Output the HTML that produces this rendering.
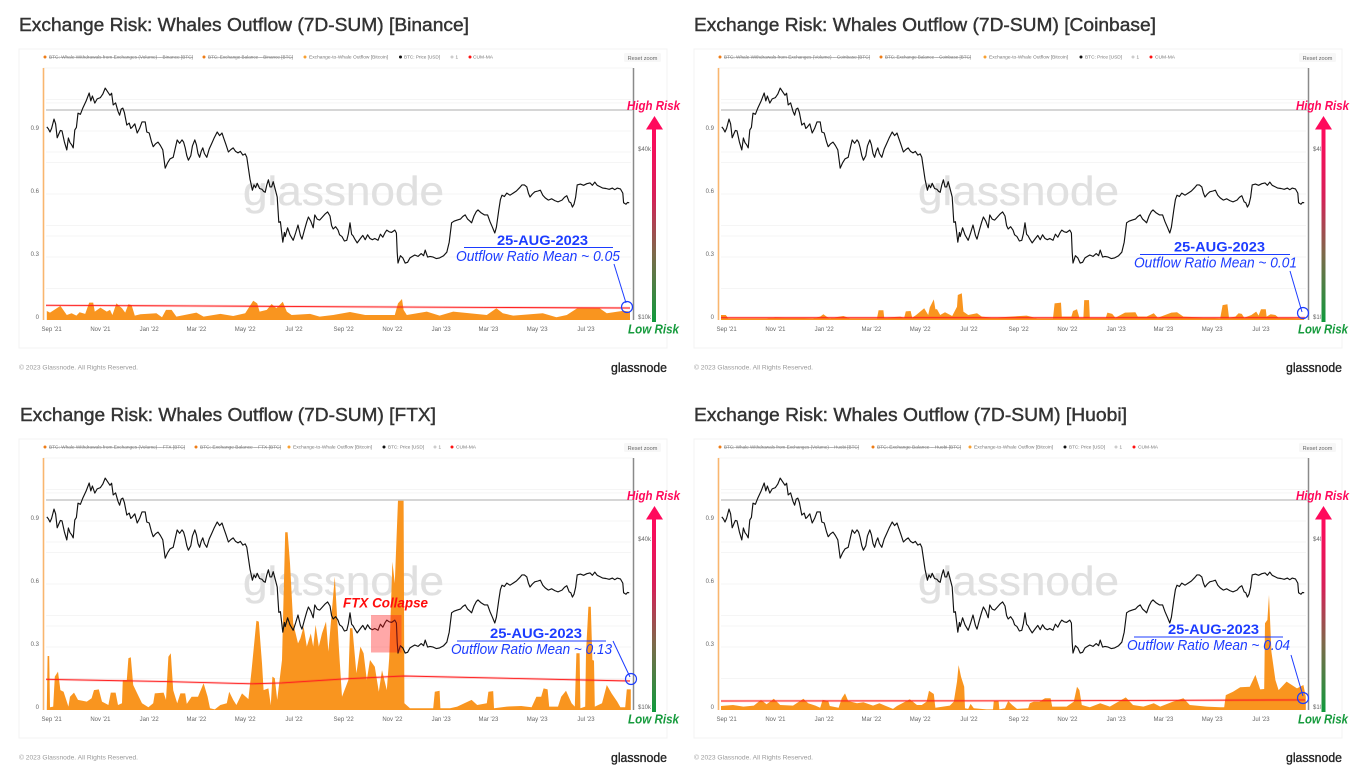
<!DOCTYPE html>
<html lang="en">
<head>
<meta charset="utf-8">
<title>Exchange Risk: Whales Outflow</title>
<style>
html,body{margin:0;padding:0;background:#fff;width:1369px;height:775px;overflow:hidden}
svg{display:block;font-family:"Liberation Sans",sans-serif}
.title{font-size:18px;fill:#333;stroke:#333;stroke-width:.4}
.lg{font-size:4.6px;fill:#777}
.lgs{font-size:4.6px;fill:#777;text-decoration:line-through}
.rz{font-size:5.6px;fill:#666;text-anchor:middle}
.copy{font-size:6.5px;fill:#999}
.logo{font-size:13px;fill:#222;stroke:#222;stroke-width:.35}
.wm{font-size:41px;fill:#e0e0e0;stroke:#e0e0e0;stroke-width:.3}
.date{font-size:13.5px;font-weight:bold;fill:#1c3cff}
.ratio{font-size:14.5px;font-style:italic;fill:#1c3cff}
.hi{font-size:12.5px;font-weight:bold;font-style:italic;fill:#ff0a5c}
.lo{font-size:12.5px;font-weight:bold;font-style:italic;fill:#159a3c}
.ftx{font-size:13.5px;font-weight:bold;font-style:italic;fill:#ff0d0d}
.tick{font-size:6px;fill:#666}
</style>
</head>
<body>
<svg id="chart-root" width="1369" height="775" viewBox="0 0 1369 775" xmlns="http://www.w3.org/2000/svg">
<defs>
<linearGradient id="riskGrad" x1="0" y1="0" x2="0" y2="1"><stop offset="0" stop-color="#ff0a5c"/><stop offset=".35" stop-color="#d81f58"/><stop offset=".65" stop-color="#7d6a4a"/><stop offset="1" stop-color="#0f9a3c"/></linearGradient>
</defs>
<rect width="1369" height="775" fill="#fff"/>

<!-- PANEL 1 -->
<g>
<text class="title" x="19" y="31" textLength="450" lengthAdjust="spacingAndGlyphs">Exchange Risk: Whales Outflow (7D-SUM) [Binance]</text>
<rect x="19" y="49" width="648" height="299" fill="#fff" stroke="#f3f3f3"/>
<g>
<circle cx="45" cy="57" r="1.5" fill="#ef7d16"/><text class="lgs" x="49" y="58.7" textLength="144" lengthAdjust="spacingAndGlyphs">BTC: Whale Withdrawals from Exchanges (Volume) – Binance [BTC]</text>
<circle cx="204" cy="57" r="1.5" fill="#ef7d16"/><text class="lgs" x="208" y="58.7" textLength="85" lengthAdjust="spacingAndGlyphs">BTC: Exchange Balance – Binance [BTC]</text>
<circle cx="305" cy="57" r="1.5" fill="#f9a030"/><text class="lg" x="309" y="58.7" textLength="79" lengthAdjust="spacingAndGlyphs">Exchange-to-Whale Outflow [Bitcoin]</text>
<circle cx="400.500" cy="57" r="1.5" fill="#111"/><text class="lg" x="404" y="58.7" textLength="36" lengthAdjust="spacingAndGlyphs">BTC: Price [USD]</text>
<circle cx="452" cy="57" r="1.5" fill="#ccc"/><text class="lg" x="455.500" y="58.7">1</text>
<circle cx="470" cy="57" r="1.5" fill="#f11"/><text class="lg" x="473" y="58.7" textLength="20" lengthAdjust="spacingAndGlyphs">CUM-MA</text>
</g>
<rect x="624" y="53" width="37" height="9" rx="1.5" fill="#f7f7f7"/><text class="rz" x="642.500" y="59.800">Reset zoom</text>
<g id="marks-binance"></g>
<text class="copy" x="19" y="369.500" textLength="119" lengthAdjust="spacingAndGlyphs">© 2023 Glassnode. All Rights Reserved.</text>
<text class="logo" x="611" y="372" textLength="56" lengthAdjust="spacingAndGlyphs">glassnode</text>
<text class="hi" x="627" y="110" textLength="53" lengthAdjust="spacingAndGlyphs">High Risk</text>
<rect x="652" y="128" width="4" height="194" fill="url(#riskGrad)"/>
<polygon points="654.500,116 646,129.500 663,129.500" fill="#ff0a5c"/>
<text class="lo" x="628" y="333.500" textLength="51" lengthAdjust="spacingAndGlyphs">Low Risk</text>
<text class="date" x="497" y="245" textLength="91" lengthAdjust="spacingAndGlyphs">25-AUG-2023</text>
<line x1="464" y1="247.500" x2="613" y2="247.500" stroke="#1c3cff"/>
<text class="ratio" x="456" y="261" textLength="164" lengthAdjust="spacingAndGlyphs">Outflow Ratio Mean ~ 0.05</text>
<line x1="614" y1="264" x2="626" y2="303" stroke="#1c3cff"/>
<circle cx="627" cy="307" r="5.500" fill="none" stroke="#1c3cff" stroke-width="1.200"/>
</g>

<!-- PANEL 2 -->
<g>
<text class="title" x="694" y="31" textLength="462" lengthAdjust="spacingAndGlyphs">Exchange Risk: Whales Outflow (7D-SUM) [Coinbase]</text>
<rect x="694" y="49" width="648" height="299" fill="#fff" stroke="#f3f3f3"/>
<g>
<circle cx="720" cy="57" r="1.5" fill="#ef7d16"/><text class="lgs" x="724" y="58.7" textLength="146" lengthAdjust="spacingAndGlyphs">BTC: Whale Withdrawals from Exchanges (Volume) – Coinbase [BTC]</text>
<circle cx="881" cy="57" r="1.5" fill="#ef7d16"/><text class="lgs" x="885" y="58.7" textLength="86" lengthAdjust="spacingAndGlyphs">BTC: Exchange Balance – Coinbase [BTC]</text>
<circle cx="985" cy="57" r="1.5" fill="#f9a030"/><text class="lg" x="989" y="58.7" textLength="79" lengthAdjust="spacingAndGlyphs">Exchange-to-Whale Outflow [Bitcoin]</text>
<circle cx="1081" cy="57" r="1.5" fill="#111"/><text class="lg" x="1085" y="58.7" textLength="37" lengthAdjust="spacingAndGlyphs">BTC: Price [USD]</text>
<circle cx="1133" cy="57" r="1.5" fill="#ccc"/><text class="lg" x="1136.500" y="58.7">1</text>
<circle cx="1151" cy="57" r="1.5" fill="#f11"/><text class="lg" x="1155" y="58.7" textLength="20" lengthAdjust="spacingAndGlyphs">CUM-MA</text>
</g>
<rect x="1299" y="53" width="37" height="9" rx="1.5" fill="#f7f7f7"/><text class="rz" x="1317.500" y="59.800">Reset zoom</text>
<g id="marks-coinbase"></g>
<rect x="1321" y="68" width="19" height="256" fill="#fff"/>
<text class="copy" x="694" y="369.500" textLength="119" lengthAdjust="spacingAndGlyphs">© 2023 Glassnode. All Rights Reserved.</text>
<text class="logo" x="1286" y="372" textLength="56" lengthAdjust="spacingAndGlyphs">glassnode</text>
<text class="hi" x="1296" y="110" textLength="53" lengthAdjust="spacingAndGlyphs">High Risk</text>
<rect x="1321.500" y="128" width="4" height="194" fill="url(#riskGrad)"/>
<polygon points="1323.500,116 1315,129.500 1332,129.500" fill="#ff0a5c"/>
<text class="lo" x="1298" y="333.500" textLength="50" lengthAdjust="spacingAndGlyphs">Low Risk</text>
<text class="date" x="1174" y="251.500" textLength="91" lengthAdjust="spacingAndGlyphs">25-AUG-2023</text>
<line x1="1140" y1="254.500" x2="1290" y2="254.500" stroke="#1c3cff"/>
<text class="ratio" x="1134" y="267.500" textLength="163" lengthAdjust="spacingAndGlyphs">Outflow Ratio Mean ~ 0.01</text>
<line x1="1290" y1="271" x2="1302" y2="312" stroke="#1c3cff"/>
<circle cx="1303" cy="313" r="5.500" fill="none" stroke="#1c3cff" stroke-width="1.200"/>
</g>

<!-- PANEL 3 -->
<g>
<text class="title" x="20" y="421" textLength="416" lengthAdjust="spacingAndGlyphs">Exchange Risk: Whales Outflow (7D-SUM) [FTX]</text>
<rect x="19" y="439" width="648" height="299" fill="#fff" stroke="#f3f3f3"/>
<g>
<circle cx="45" cy="447" r="1.5" fill="#ef7d16"/><text class="lgs" x="49" y="448.700" textLength="136" lengthAdjust="spacingAndGlyphs">BTC: Whale Withdrawals from Exchanges (Volume) – FTX [BTC]</text>
<circle cx="196" cy="447" r="1.5" fill="#ef7d16"/><text class="lgs" x="200" y="448.700" textLength="81" lengthAdjust="spacingAndGlyphs">BTC: Exchange Balance – FTX [BTC]</text>
<circle cx="289" cy="447" r="1.5" fill="#f9a030"/><text class="lg" x="293" y="448.700" textLength="79" lengthAdjust="spacingAndGlyphs">Exchange-to-Whale Outflow [Bitcoin]</text>
<circle cx="384" cy="447" r="1.5" fill="#111"/><text class="lg" x="388" y="448.700" textLength="36" lengthAdjust="spacingAndGlyphs">BTC: Price [USD]</text>
<circle cx="435" cy="447" r="1.5" fill="#ccc"/><text class="lg" x="438.500" y="448.700">1</text>
<circle cx="452" cy="447" r="1.5" fill="#f11"/><text class="lg" x="456" y="448.700" textLength="20" lengthAdjust="spacingAndGlyphs">CUM-MA</text>
</g>
<rect x="624" y="443" width="37" height="9" rx="1.5" fill="#f7f7f7"/><text class="rz" x="642.500" y="449.800">Reset zoom</text>
<g id="marks-ftx"></g>
<rect x="371" y="615" width="30.500" height="37.500" fill="#ff1a1a" fill-opacity=".38"/>
<text class="ftx" x="343" y="607.500" textLength="85" lengthAdjust="spacingAndGlyphs">FTX Collapse</text>
<text class="copy" x="19" y="759.500" textLength="119" lengthAdjust="spacingAndGlyphs">© 2023 Glassnode. All Rights Reserved.</text>
<text class="logo" x="611" y="762" textLength="56" lengthAdjust="spacingAndGlyphs">glassnode</text>
<text class="hi" x="627" y="500" textLength="53" lengthAdjust="spacingAndGlyphs">High Risk</text>
<rect x="652" y="518" width="4" height="194" fill="url(#riskGrad)"/>
<polygon points="654.500,506 646,519.500 663,519.500" fill="#ff0a5c"/>
<text class="lo" x="628" y="723.500" textLength="51" lengthAdjust="spacingAndGlyphs">Low Risk</text>
<text class="date" x="490" y="638" textLength="92" lengthAdjust="spacingAndGlyphs">25-AUG-2023</text>
<line x1="457" y1="641" x2="606" y2="641" stroke="#1c3cff"/>
<text class="ratio" x="451" y="654" textLength="161" lengthAdjust="spacingAndGlyphs">Outflow Ratio Mean ~ 0.13</text>
<line x1="613" y1="641" x2="630" y2="677" stroke="#1c3cff"/>
<circle cx="631" cy="679" r="5.500" fill="none" stroke="#1c3cff" stroke-width="1.200"/>
</g>

<!-- PANEL 4 -->
<g>
<text class="title" x="694" y="421" textLength="433" lengthAdjust="spacingAndGlyphs">Exchange Risk: Whales Outflow (7D-SUM) [Huobi]</text>
<rect x="694" y="439" width="648" height="299" fill="#fff" stroke="#f3f3f3"/>
<g>
<circle cx="720" cy="447" r="1.5" fill="#ef7d16"/><text class="lgs" x="724" y="448.700" textLength="135" lengthAdjust="spacingAndGlyphs">BTC: Whale Withdrawals from Exchanges (Volume) – Huobi [BTC]</text>
<circle cx="873" cy="447" r="1.5" fill="#ef7d16"/><text class="lgs" x="877" y="448.700" textLength="84" lengthAdjust="spacingAndGlyphs">BTC: Exchange Balance – Huobi [BTC]</text>
<circle cx="970" cy="447" r="1.5" fill="#f9a030"/><text class="lg" x="974" y="448.700" textLength="79" lengthAdjust="spacingAndGlyphs">Exchange-to-Whale Outflow [Bitcoin]</text>
<circle cx="1065" cy="447" r="1.5" fill="#111"/><text class="lg" x="1069" y="448.700" textLength="36" lengthAdjust="spacingAndGlyphs">BTC: Price [USD]</text>
<circle cx="1116" cy="447" r="1.5" fill="#ccc"/><text class="lg" x="1119.500" y="448.700">1</text>
<circle cx="1134" cy="447" r="1.5" fill="#f11"/><text class="lg" x="1138" y="448.700" textLength="20" lengthAdjust="spacingAndGlyphs">CUM-MA</text>
</g>
<rect x="1299" y="443" width="37" height="9" rx="1.5" fill="#f7f7f7"/><text class="rz" x="1317.500" y="449.800">Reset zoom</text>
<g id="marks-huobi"></g>
<rect x="1321" y="458" width="19" height="256" fill="#fff"/>
<text class="copy" x="694" y="759.500" textLength="119" lengthAdjust="spacingAndGlyphs">© 2023 Glassnode. All Rights Reserved.</text>
<text class="logo" x="1286" y="762" textLength="56" lengthAdjust="spacingAndGlyphs">glassnode</text>
<text class="hi" x="1296" y="500" textLength="53" lengthAdjust="spacingAndGlyphs">High Risk</text>
<rect x="1321.500" y="518" width="4" height="194" fill="url(#riskGrad)"/>
<polygon points="1323.500,506 1315,519.500 1332,519.500" fill="#ff0a5c"/>
<text class="lo" x="1298" y="723.500" textLength="50" lengthAdjust="spacingAndGlyphs">Low Risk</text>
<text class="date" x="1168" y="634" textLength="91" lengthAdjust="spacingAndGlyphs">25-AUG-2023</text>
<line x1="1134" y1="637" x2="1283" y2="637" stroke="#1c3cff"/>
<text class="ratio" x="1127" y="650" textLength="163" lengthAdjust="spacingAndGlyphs">Outflow Ratio Mean ~ 0.04</text>
<line x1="1291" y1="655" x2="1303" y2="696" stroke="#1c3cff"/>
<circle cx="1303" cy="698" r="5.500" fill="none" stroke="#1c3cff" stroke-width="1.200"/>
</g>
</svg>

<script>
// ---- shared axes data ----
const tickLabels = ["Sep '21","Nov '21","Jan '22","Mar '22","May '22","Jul '22","Sep '22","Nov '22","Jan '23","Mar '23","May '23","Jul '23"];
const tickDays = [7,68,129,188,249,310,372,433,494,553,614,675];
const ratioTicks = [0,0.3,0.6,0.9];
const ratioGrid = [0.15,0.3,0.45,0.6,0.75,0.9,1.05];
const priceTicks = [10,40];
const priceTickLabels = ["$10k","$40k"];
const priceGrid = [20,40,60];
const referenceLevel = [1];

// ---- BTC price (kUSD), days since 25 Aug 2021 ----
const priceDays = [
1,3,5,7,10,12,14,16,18,20,
23,26,28,30,32,34,36,38,40,43,
46,50,54,56,58,61,64,68,71,74,
77,80,82,84,87,90,92,94,96,98,
101,104,106,108,111,114,117,120,124,126,
129,132,134,137,140,143,146,149,152,155,
159,162,164,167,170,172,174,176,178,181,
183,186,188,190,192,194,196,198,201,204,
207,210,214,217,220,222,225,228,231,234,
237,240,243,246,249,251,253,255,258,260,
262,264,267,270,272,274,276,278,280,282,
284,286,289,291,293,296,298,299,302,305,
309,312,315,318,320,323,326,328,331,334,
336,339,342,345,349,352,355,357,359,362,
365,367,370,373,376,378,380,382,384,386,
389,393,396,399,402,405,408,411,415,418,
421,424,426,429,432,436,438,439,440,443,
446,449,452,455,458,461,465,469,472,474,
477,480,484,488,492,497,501,504,507,510,
514,518,521,524,527,530,532,535,538,540,
544,548,552,555,558,561,563,566,568,570,
573,576,580,584,588,592,595,598,601,603,
605,608,611,615,618,621,624,628,632,636,
640,645,648,651,654,656,658,660,662,664,
668,672,676,680,683,686,689,692,696,700,
704,708,711,714,718,721,722,725,727,729];
const priceK = [
49.2,48.4,47.2,48.6,52.5,50.5,45,46.4,47.8,47.6,
43.5,40.7,44.9,43.2,42.5,41.4,48,49,55.1,54.6,
57.5,60.8,65.1,61,63.5,59.9,62,62.7,64.5,67.8,
65.8,63.9,65,59,60,56,54.2,57,57.5,55.4,
50,50.8,48.6,49.2,50.5,46.8,48.6,51.3,51.3,47.2,
46.8,43.4,41.8,42.8,43.4,42.2,40.7,35,36.6,37.8,
38.3,41.8,44.2,43,44.2,43.4,41.4,38.8,37.4,38.8,
42,44.2,42.5,39.5,38.3,40.2,41.4,39.5,38.3,41,
42.8,44.8,47.2,45.8,46.8,45,42.5,40,40.8,41.4,
40.2,39.7,40.2,39,39.4,38.3,35,32,29.2,30.5,
29.8,30.9,29.6,29.4,28.9,28.7,30.5,31.8,30,30,
31.3,29.8,27.6,22.4,22.5,19,20.6,19.9,21.4,20.2,
19.3,20.5,21.9,20.1,19.5,21,22.5,23.4,22.6,21.4,
23.8,23,22.8,23.3,24,24.4,23.6,21.8,21.2,21.6,
21,20.2,19.9,19.2,19.3,20.4,22.3,20.3,20,19.5,
18.9,19.6,20.1,19.4,20.2,19.6,19.4,19.6,19.3,20.3,
19.8,20.6,21,20.7,20.6,21,20.5,17.5,16,17,
16.7,16,16.1,16.7,16.9,17.1,16.9,17.3,17,17.8,
16.8,16.9,16.8,16.6,16.7,17,17.5,19,22.3,22.6,
22.8,23,23.5,23.8,23,22.6,22.3,23.6,24.5,24.8,
24.2,23.8,23.8,22.5,21.5,20.5,21.5,24.8,27,28,
27.7,28.5,28,28.5,29,29.8,30.5,30.5,30,28.5,
27.6,28.3,28.8,29,29.2,28,27.4,26.9,27.2,26.8,
26.5,26.9,27.5,27.9,26.5,26.3,25.4,26,27.5,30.5,
30.7,30.4,30.8,31,30.4,31.2,30.4,30.1,29.7,29.6,
29.4,29.7,29.3,29.7,29.5,28.5,26.3,26,26.4,26.3];

// ---- Binance ----
const binanceDays = [1,5,18,26,32,38,42,49,54,59,61,68,76,80,83,88,95,99,103,107,111,118,138,145,150,157,163,188,197,218,234,249,259,264,267,276,282,288,296,301,307,330,342,359,380,399,421,436,440,445,447,451,476,492,509,551,563,571,584,621,638,651,664,692,701,722,730];
const binanceRatio = [.043,.035,.067,.024,.032,.021,.037,.029,.083,.083,.04,.059,.04,.048,.024,.079,.056,.035,.075,.071,.021,.027,.032,.013,.048,.048,.016,.035,.016,.029,.019,.032,.092,.079,.04,.048,.076,.056,.087,.04,.024,.029,.016,.024,.038,.024,.024,.024,.079,.1,.048,.024,.04,.021,.04,.024,.056,.032,.021,.032,.013,.024,.056,.056,.032,.044,.04];
const binanceMaDays = [0,182,380,547,730];
const binanceMa = [.07,.067,.063,.06,.057];

// ---- Coinbase ----
const coinbaseDays = [0,6,9,57,68,115,124,128,132,136,153,161,195,197,203,204,224,229,231,237,239,244,254,259,261,266,268,270,274,280,289,295,296,301,303,309,320,326,341,382,395,415,417,425,426,438,440,445,448,453,454,460,461,481,483,489,493,505,518,521,532,541,546,563,570,578,624,627,633,635,643,647,651,654,663,669,672,675,681,682,687,693,697,720,729];
const coinbaseRatio = [.024,.024,.008,.008,.013,.008,.016,.027,.016,.008,.019,.008,.008,.046,.046,.011,.016,.011,.041,.043,.011,.024,.056,.024,.06,.098,.051,.051,.024,.037,.019,.063,.119,.127,.04,.024,.032,.016,.011,.021,.008,.008,.079,.083,.016,.016,.043,.051,.011,.011,.095,.095,.011,.011,.035,.029,.011,.035,.037,.016,.016,.032,.011,.035,.037,.016,.008,.071,.075,.011,.016,.032,.029,.011,.024,.04,.021,.051,.051,.016,.027,.024,.011,.008,.008];
const coinbaseMaDays = [0,365,730];
const coinbaseMa = [.011,.011,.011];

// ---- FTX ----
const ftxDays = [1,2,4,5,9,11,15,18,22,28,30,35,40,51,57,60,66,70,78,81,87,90,95,96,101,103,106,109,114,120,128,134,136,147,150,153,156,159,164,168,174,176,182,190,197,202,205,211,218,226,229,234,238,245,253,257,263,266,270,272,278,281,283,286,289,295,299,302,305,309,315,318,322,326,331,334,337,341,345,350,353,361,366,370,378,380,383,388,393,397,401,405,411,416,420,426,429,433,436,440,447,448,455,484,486,492,493,505,514,532,539,551,553,559,560,576,594,607,613,619,622,627,629,640,644,650,657,661,663,667,668,674,675,678,681,683,685,686,695,701,707,714,718,724,726,731];
const ftxRatio = [.008,.257,.257,.013,.016,.159,.183,.095,.087,.016,.063,.083,.048,.04,.056,.095,.098,.04,.024,.083,.083,.024,.032,.143,.143,.246,.251,.119,.079,.032,.013,.032,.079,.083,.048,.254,.27,.095,.032,.079,.079,.029,.063,.063,.127,.063,.008,.003,.024,.032,.087,.048,.024,.079,.052,.19,.425,.421,.222,.095,.103,.024,.159,.151,.048,.238,.846,.846,.698,.413,.317,.341,.397,.302,.365,.302,.405,.302,.365,.421,.278,.635,.302,.063,.143,.389,.389,.175,.302,.27,.143,.238,.206,.087,.19,.095,.246,.706,.603,1,1,.032,.008,.008,.087,.092,.008,.008,.016,.048,.024,.032,.087,.09,.008,.016,.019,.013,.063,.063,.103,.098,.016,.016,.063,.092,.032,.016,.27,.27,.008,.016,.27,.492,.492,.238,.235,.016,.032,.119,.079,.04,.013,.013,.098,.098];
const ftxMaDays = [0,150,258,295,372,447,730];
const ftxMa = [.146,.135,.125,.129,.148,.162,.138];

// ---- Huobi ----
const huobiDays = [0,15,28,41,50,57,66,74,90,103,109,118,124,127,134,136,147,151,155,159,170,178,190,198,205,215,220,236,245,251,257,260,266,268,286,291,295,297,300,304,305,309,312,316,332,340,341,347,348,355,359,364,370,384,386,391,398,405,412,414,432,441,445,448,451,461,474,486,506,515,528,541,549,565,578,586,607,624,629,631,640,649,661,668,674,679,680,683,685,688,693,697,707,720,728,731];
const huobiRatio = [.019,.024,.016,.021,.048,.027,.054,.024,.021,.054,.032,.021,.011,.048,.044,.019,.011,.056,.079,.043,.032,.037,.021,.032,.021,.005,.019,.051,.024,.024,.04,.092,.076,.011,.021,.04,.135,.214,.159,.111,.008,.005,.029,.008,.003,.003,.043,.043,.003,.008,.043,.024,.005,.008,.032,.04,.04,.056,.056,.016,.016,.04,.111,.095,.024,.013,.032,.016,.06,.024,.016,.032,.016,.04,.056,.024,.016,.013,.013,.071,.087,.108,.111,.167,.098,.1,.413,.429,.548,.278,.143,.095,.135,.103,.119,.063];
const huobiMaDays = [0,365,730];
const huobiMa = [.043,.044,.048];

// ---- axis functions ----
const xDay = d => 46 + 0.8 * d;
const yRatio = v => 320 - 210 * v;
const yPrice = k => 320 - 279 * Math.log10(k / 10);

const SVGNS = 'http://www.w3.org/2000/svg';
function make(tag, parent, attrs) {
  const node = document.createElementNS(SVGNS, tag);
  for (const key in attrs) node.setAttribute(key, attrs[key]);
  parent.appendChild(node);
  return node;
}
function pathFrom(xs, ys, xf, yf) {
  return xs.map((d, i) => (i ? 'L' : 'M') + xf(d).toFixed(1) + ' ' + yf(ys[i]).toFixed(1)).join('');
}

function drawPanel(id, dx, dy, days, ratio, maDays, ma) {
  const root = document.getElementById('marks-' + id);
  const g = make('g', root, {transform: 'translate(' + dx + ',' + dy + ')'});
  
  

  const top = make('line', g, {x1: 43, x2: 633, y1: 68, y2: 68, stroke: '#f5f5f5'});
  
  

  ratioGrid.forEach(v => {
    const line = make('line', g, {x1: 46, x2: 631, y1: yRatio(v), y2: yRatio(v), stroke: '#f5f5f5'});
    
    
  });
  priceGrid.forEach(k => {
    const line = make('line', g, {x1: 46, x2: 631, y1: yPrice(k), y2: yPrice(k), stroke: '#f5f5f5'});
    
    
  });

  const wm = make('text', g, {x: 243, y: 205, textLength: 201, lengthAdjust: 'spacingAndGlyphs', class: 'wm'});
  wm.textContent = 'glassnode';
  
  

  const leftAxis = make('line', g, {x1: 43.5, x2: 43.5, y1: 68, y2: 320, stroke: '#f9b66f', 'stroke-width': 1.6});
  
  
  const rightAxis = make('line', g, {x1: 633.5, x2: 633.5, y1: 68, y2: 320, stroke: '#8a8a8a', 'stroke-width': 1.5});
  
  

  const area = make('path', g, {
    d: 'M' + xDay(days[0]).toFixed(1) + ' ' + yRatio(0) + pathFrom(days, ratio, xDay, yRatio).replace('M', 'L') + 'L' + xDay(days[days.length - 1]).toFixed(1) + ' ' + yRatio(0) + 'Z',
    fill: '#f9951f'
  });
  
  

  referenceLevel.forEach(v => {
    const line = make('line', g, {x1: 46, x2: 633, y1: yRatio(v), y2: yRatio(v), stroke: '#c9c9c9', 'stroke-width': 1.4});
    
    
  });

  const price = make('path', g, {d: pathFrom(priceDays, priceK, xDay, yPrice), fill: 'none', stroke: '#111', 'stroke-width': 1.15, 'stroke-linejoin': 'round'});
  
  

  const maHalo = make('path', g, {d: pathFrom(maDays, ma, xDay, yRatio), fill: 'none', stroke: '#ff2020', 'stroke-opacity': 0.22, 'stroke-width': 2.6});
  
  
  const maLine = make('path', g, {d: pathFrom(maDays, ma, xDay, yRatio), fill: 'none', stroke: '#ff2020', 'stroke-width': 0.9});
  
  

  ratioTicks.forEach(v => {
    const t = make('text', g, {x: 39, y: yRatio(v) - 1, 'text-anchor': 'end', class: 'tick'});
    t.textContent = String(v);
    
    
  });
  priceTicks.forEach((k, i) => {
    const t = make('text', g, {x: 638, y: yPrice(k) - 1, class: 'tick'});
    t.textContent = priceTickLabels[i];
    
    
  });
  tickDays.forEach((d, i) => {
    const t = make('text', g, {x: xDay(d), y: 331, 'text-anchor': 'middle', class: 'tick'});
    t.textContent = tickLabels[i];
    
    
  });
}

drawPanel('binance', 0, 0, binanceDays, binanceRatio, binanceMaDays, binanceMa);
drawPanel('coinbase', 675, 0, coinbaseDays, coinbaseRatio, coinbaseMaDays, coinbaseMa);
drawPanel('ftx', 0, 390, ftxDays, ftxRatio, ftxMaDays, ftxMa);
drawPanel('huobi', 675, 390, huobiDays, huobiRatio, huobiMaDays, huobiMa);
</script>
</body>
</html>
